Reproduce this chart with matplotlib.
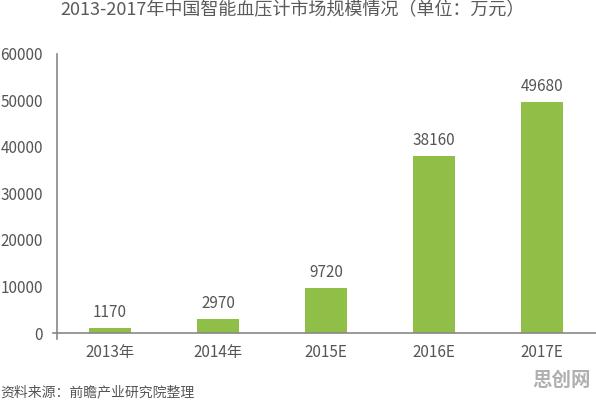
import matplotlib
matplotlib.use("Agg")
import matplotlib.pyplot as plt
from matplotlib.lines import Line2D
import numpy as np

plt.rcParams['font.family'] = ['Noto Sans CJK SC', 'DejaVu Sans']

# data (unit: 10k yuan)
years = ['2013年', '2014年', '2015E', '2016E', '2017E']
market_size = [1170, 2970, 9720, 38160, 49680]
y_ticks = [0, 10000, 20000, 30000, 40000, 50000, 60000]

title = '2013-2017年中国智能血压计市场规模情况（单位：万元）'
source = '资料来源：前瞻产业研究院整理'

bar_color = '#8fbf47'
text_color = '#555555'
axis_color = '#888888'

fig = plt.figure(figsize=(5.96, 4.0), dpi=100)
ax = fig.add_axes([0.0956, 0.1675, 0.91, 0.6975])

x = np.arange(len(years))
bars = ax.bar(x, market_size, width=0.39, color=bar_color)

for xi, v in zip(x, market_size):
    ax.annotate(str(v), (xi, v), xytext=(0, 5), textcoords='offset points',
                ha='center', va='bottom', fontsize=11, color=text_color)

ax.set_xlim(-0.49, 4.53)
ax.set_ylim(0, 60000)
ax.set_yticks(y_ticks)
ax.set_yticklabels([str(t) for t in y_ticks])
ax.set_xticks(x)
ax.set_xticklabels(years)

ax.tick_params(axis='y', length=0, pad=10, labelsize=11, labelcolor=text_color)
ax.tick_params(axis='x', length=0, pad=8, labelsize=11, labelcolor=text_color)

for side in ['top', 'right']:
    ax.spines[side].set_visible(False)
for side in ['left', 'bottom']:
    ax.spines[side].set_color(axis_color)
    ax.spines[side].set_linewidth(1.2)

# small overhangs where the two axis lines meet
ax.add_line(Line2D([-0.008, 0], [0, 0], transform=ax.transAxes, color=axis_color,
                   lw=1.2, clip_on=False))
ax.add_line(Line2D([0, 0], [-0.02, 0], transform=ax.transAxes, color=axis_color,
                   lw=1.2, clip_on=False))

fig.text(0.49, 0.975, title, ha='center', va='center', fontsize=13, color='#5a5a5a')
fig.text(0.0, 0.02, source, ha='left', va='center', fontsize=10, color='#555555')
fig.text(0.943, 0.05, '思创网', ha='center', va='center', fontsize=14,
         fontweight='bold', color='#b0b0b0')

fig.savefig('out.png', dpi=100)
